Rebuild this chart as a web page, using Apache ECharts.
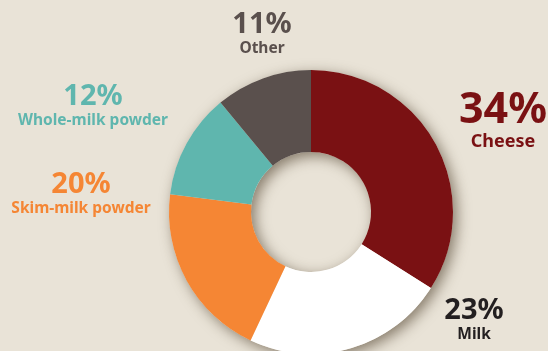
<!DOCTYPE html>
<html>
<head>
<meta charset="utf-8">
<script src="https://cdn.jsdelivr.net/npm/echarts@6/dist/echarts.min.js"></script>
<style>
  html, body { margin: 0; padding: 0; background: #e9e3d7; }
  #chart { width: 548px; height: 351px; }
</style>
</head>
<body>
<div id="chart"></div>
<script>
// Data
var categories = ['Cheese', 'Milk', 'Skim-milk powder', 'Whole-milk powder', 'Other'];
var shares = [34, 23, 20, 12, 11];
var sliceColors = ['#7a1113', '#ffffff', '#f58634', '#5fb6ae', '#5a504d'];
var labelColors = ['#7a1113', '#231f20', '#f58634', '#5fb6ae', '#5a504d'];

// Where each label block sits (centre of the block)
var labelPos = [[503, 121], [474, 320], [81, 194], [93, 106], [262, 34]];

var chart = echarts.init(document.getElementById('chart'));

var pieData = categories.map(function (name, i) {
    var big = i === 0;
    return {
        name: name,
        value: shares[i],
        itemStyle: { color: sliceColors[i] },
        label: {
            formatter: (big ? '{pb|' : '{p|') + '{c}%}\n{n|{b}}',
            rich: {
                p: { fontSize: 29, fontWeight: 'bold', lineHeight: 30, color: labelColors[i], fontFamily: 'Noto Sans' },
                pb: { fontSize: 43, fontWeight: 'bold', lineHeight: 42, color: labelColors[i], fontFamily: 'Noto Sans' },
                n: { fontSize: big ? 18 : 15.5, fontWeight: 'bold', lineHeight: big ? 20 : 18, color: labelColors[i], fontFamily: 'Noto Sans' }
            }
        }
    };
});

var option = {
    backgroundColor: '#e9e3d7',
    animation: false,
    series: [
        // Shadow ring behind the donut
        {
            type: 'pie',
            silent: true,
            center: [311, 212],
            radius: [60, 142],
            z: 1,
            label: { show: false },
            labelLine: { show: false },
            itemStyle: {
                color: '#e9e3d7',
                shadowBlur: 14,
                shadowColor: 'rgba(70, 55, 35, 0.6)',
                shadowOffsetX: 4,
                shadowOffsetY: 4
            },
            data: [{ value: 1, name: 'shadow' }]
        },
        {
            type: 'pie',
            center: [311, 212],
            radius: [60, 142],
            startAngle: 90,
            clockwise: true,
            z: 2,
            itemStyle: { borderWidth: 0 },
            label: { show: true, position: 'outside', alignTo: 'none', overflow: 'none', width: 300 },
            labelLine: { show: false },
            labelLayout: function (params) {
                var p = labelPos[params.dataIndex];
                return { x: p[0], y: p[1], align: 'center', verticalAlign: 'middle', hideOverlap: false };
            },
            emphasis: { disabled: true },
            data: pieData
        }
    ]
};

chart.setOption(option);
</script>
</body>
</html>
